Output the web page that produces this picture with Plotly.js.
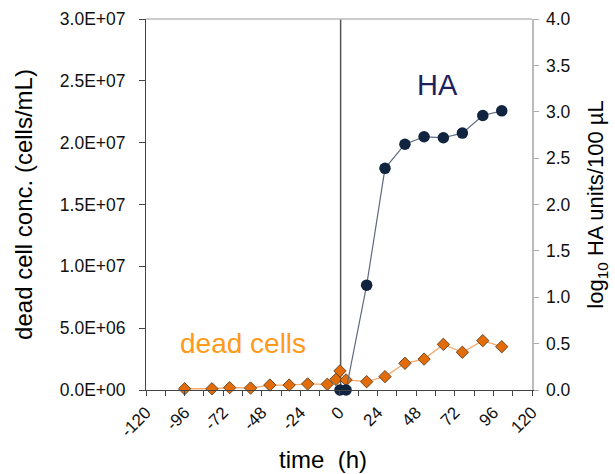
<!DOCTYPE html>
<html>
<head>
<meta charset="utf-8">
<script src="https://cdn.plot.ly/plotly-3.0.1.min.js"></script>
<style>html,body{margin:0;padding:0;background:#fff;}#chart{width:615px;height:474px;}</style>
</head>
<body>
<div id="chart"></div>
<script>
// dead cell concentration (cells/mL)
const deadTime = [-96, -79, -68, -55, -43, -31, -19.5, -7.3, -1.9, 0.6, 4.4, 17.2, 28.6, 41, 52.9, 64.9, 76.7, 89.4, 101.2];
const deadConc = [1e5, 1e5, 1.9e5, 1.6e5, 4e5, 4e5, 4.9e5, 4.6e5, 8.6e5, 1.54e6, 8.1e5, 6.7e5, 1.08e6, 2.16e6, 2.5e6, 3.69e6, 3.05e6, 3.99e6, 3.5e6];
// log10 HA units / 100 uL
const haTime = [0.6, 4.4, 17.2, 28.6, 41, 52.9, 64.9, 76.7, 89.4, 101.2];
const haLog = [0, 0, 1.13, 2.39, 2.65, 2.73, 2.72, 2.77, 2.96, 3.01];
// axis ticks
const xTickVals = [-120, -96, -72, -48, -24, 0, 24, 48, 72, 96, 120];
const xTickText = ["-120", "-96", "-72", "-48", "-24", "0", "24", "48", "72", "96", "120"];
const yLeftVals = [0, 5e6, 1e7, 1.5e7, 2e7, 2.5e7, 3e7];
const yLeftText = ["0.0E+00", "5.0E+06", "1.0E+07", "1.5E+07", "2.0E+07", "2.5E+07", "3.0E+07"];
const yRightVals = [0, 0.5, 1, 1.5, 2, 2.5, 3, 3.5, 4];
const infectionTime = 1;

const font = "Liberation Sans, Arial, sans-serif";

const traces = [
  {
    x: deadTime, y: deadConc, type: "scatter", mode: "lines+markers", yaxis: "y",
    line: {color: "#f5a96b", width: 1.3},
    marker: {symbol: "diamond", size: 9.5, color: "#e36c0a", line: {color: "#6b4a2a", width: 1}},
    cliponaxis: false, showlegend: false
  },
  {
    x: haTime, y: haLog, type: "scatter", mode: "lines+markers", yaxis: "y2",
    line: {color: "#5d6b80", width: 1.2},
    marker: {symbol: "circle", size: 11.5, color: "#10243f"},
    cliponaxis: false, showlegend: false
  }
];

const layout = {
  width: 615, height: 474,
  margin: {l: 146, r: 83, t: 19, b: 84, pad: 0},
  paper_bgcolor: "#fff", plot_bgcolor: "#fff",
  font: {family: font, color: "#000", size: 17},
  xaxis: {
    range: [-120, 120], tickvals: xTickVals, ticktext: xTickText, tickangle: -45,
    ticks: "outside", ticklen: 5, tickcolor: "#444", tickwidth: 1,
    minor: {dtick: 12, tick0: 0, ticks: "outside", ticklen: 5, tickcolor: "#444", tickwidth: 1, showgrid: false},
    showgrid: false, zeroline: false, showline: true, linecolor: "#444", linewidth: 1,
    tickfont: {size: 17, family: font, color: "#111"}
  },
  yaxis: {
    range: [0, 3e7], tickvals: yLeftVals, ticktext: yLeftText,
    ticks: "outside", ticklen: 6, tickcolor: "#444", ticklabelstandoff: 10,
    showgrid: false, zeroline: false, showline: true, linecolor: "#444", linewidth: 1,
    tickfont: {size: 17.5, family: font, color: "#111"},
    title: {text: "dead cell conc. (cells/mL)", font: {size: 24, family: font, color: "#000"}, standoff: 20}
  },
  yaxis2: {
    range: [0, 4], tickvals: yRightVals, tickformat: ".1f", overlaying: "y", side: "right",
    ticks: "outside", ticklen: 5, tickcolor: "#aaa", ticklabelstandoff: 4,
    showgrid: false, zeroline: false, showline: true, linecolor: "#bbb", linewidth: 1.5,
    tickfont: {size: 17.5, family: font, color: "#111"},
    title: {text: "log<sub>10</sub> HA units/100 µL", font: {size: 22, family: font, color: "#000"}, standoff: 18}
  },
  shapes: [
    {type: "line", xref: "paper", yref: "paper", x0: 0, x1: 1, y0: 1, y1: 1, line: {color: "#bbb", width: 1.5}},
    {type: "line", xref: "x", yref: "paper", x0: infectionTime, x1: infectionTime, y0: 0, y1: 1, line: {color: "#555", width: 1.5}, layer: "below"}
  ],
  annotations: [
    {text: "time  (h)", x: -10, y: 0, xref: "x", yref: "paper", yshift: -69, yanchor: "middle", showarrow: false, font: {size: 24, family: font, color: "#000"}},
    {text: "HA", x: 61.5, y: 3.29, xref: "x", yref: "y2", showarrow: false, font: {size: 29, family: font, color: "#1f1f5e"}},
    {text: "dead cells", x: -60, y: 3.8e6, xref: "x", yref: "y", showarrow: false, font: {size: 28, family: font, color: "#ff9a1a"}}
  ]
};

Plotly.newPlot("chart", traces, layout, {displayModeBar: false, staticPlot: true});
</script>
</body>
</html>
